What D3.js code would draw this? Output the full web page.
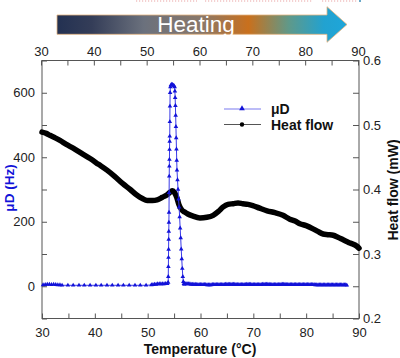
<!DOCTYPE html>
<html><head><meta charset="utf-8">
<script src="https://cdn.jsdelivr.net/npm/d3@7"></script>
<style>body{margin:0;background:#fff}svg{display:block;font-family:"Liberation Sans",Arial,sans-serif}</style>
</head><body><svg id="c" width="400" height="358"></svg>
<script>
// ---- data ----
const hfTemp = [30.0,30.8,31.5,32.5,33.4,34.6,35.9,37.5,39.1,40.7,42.3,43.8,45.3,46.7,48.0,49.0,49.9,50.9,51.8,52.8,53.7,54.3,54.7,55.1,55.5,55.9,56.4,57.0,57.6,58.5,59.9,61.2,62.4,63.4,64.3,65.2,66.2,67.1,68.0,69.0,69.9,71.2,72.6,74.1,75.6,76.9,77.9,78.8,80.0,81.3,82.2,83.2,84.1,85.1,86.0,87.0,88.3,89.6,90.0];
const hfValue = [0.489,0.487,0.484,0.480,0.476,0.470,0.464,0.456,0.448,0.439,0.430,0.420,0.409,0.400,0.391,0.386,0.383,0.383,0.384,0.388,0.392,0.396,0.398,0.395,0.388,0.377,0.369,0.365,0.362,0.359,0.356,0.357,0.360,0.366,0.373,0.377,0.378,0.379,0.378,0.377,0.375,0.371,0.367,0.364,0.360,0.354,0.351,0.347,0.344,0.339,0.335,0.331,0.330,0.329,0.326,0.322,0.317,0.312,0.309];

const muTemp = [30.2,30.6,31.0,31.4,31.8,32.2,32.6,33.0,33.4,33.8,34.9,35.9,37.0,38.0,39.1,40.2,41.2,42.3,43.3,44.4,45.4,46.5,47.6,48.6,49.7,50.7,51.0,51.3,51.6,51.9,52.2,52.5,52.8,53.1,53.4,53.7,53.88,
  53.9,53.92,53.94,53.96,53.98,54.0,54.02,54.04,54.06,54.08,54.1,54.12,54.14,54.16,54.18,54.2,54.22,54.25,54.3,
  54.4,54.55,54.7,54.85,55.0,55.1,
  55.15,55.2,55.25,55.3,55.35,55.4,55.45,55.5,55.55,55.65,55.75,55.85,55.95,56.05,56.15,56.25,56.35,56.45,56.55,56.65,56.75,56.85,56.95,
  57.0,57.25,57.5,57.75,58.0,58.25,58.5,58.75,59.0,59.25,59.5,59.75,60.0,
  60.25,60.5,60.75,61.0,61.25,61.5,61.75,62.0,62.25,62.5,62.75,63.0,63.25,63.5,63.75,64.0,64.25,64.5,64.75,65.0,
  65.25,65.5,65.75,66.0,66.25,66.5,66.75,67.0,67.25,67.5,67.75,68.0,68.25,68.5,68.75,69.0,69.25,69.5,69.75,70.0,
  70.25,70.5,70.75,71.0,71.25,71.5,71.75,72.0,72.25,72.5,72.75,73.0,73.25,73.5,73.75,74.0,74.25,74.5,74.75,75.0,
  75.25,75.5,75.75,76.0,76.25,76.5,76.75,77.0,77.25,77.5,77.75,78.0,78.25,78.5,78.75,79.0,79.25,79.5,79.75,80.0,
  80.25,80.5,80.75,81.0,81.25,81.5,81.75,82.0,82.25,82.5,82.75,83.0,83.25,83.5,83.75,84.0,84.25,84.5,84.75,85.0,
  85.25,85.5,85.75,86.0,86.25,86.5,86.75,87.0,87.25,87.5,87.7];
const muValue = [4,5,6,6,5,6,5,4,4,3,3,3,3,3,3,3,3,3,3,3,3,3,3,3,3,4,5,6,6,7,7,7,7,7,8,8,12,
  30,61,89,114,145,170,198,229,290,341,372,393,424,449,465,510,558,600,618,
  624,626,625,623,621,618,
  605,585,560,530,495,460,425,390,360,330,300,270,245,215,180,150,115,85,55,30,14,8,6,
  8,8,7,7,7,6,6,6,6,5,5,5,5,
  5,5,5,5,4,4,4,4,5,5,5,5,5,5,5,5,5,5,6,6,
  6,6,6,6,6,6,5,5,5,5,5,5,5,5,6,6,6,6,5,5,
  5,5,5,5,5,5,6,6,6,6,6,6,5,5,5,5,5,5,5,5,
  6,6,6,6,5,5,5,5,5,5,5,5,5,5,5,5,5,5,5,5,
  5,5,5,5,5,5,4,4,4,4,4,4,4,4,4,4,4,4,4,4,
  4,4,4,4,4,4,4,4,4,4,3];

const xTickValues = [30,35,40,45,50,55,60,65,70,75,80,85,90];
const xTickLabels = [30,40,50,60,70,80,90];
const leftTickValues = [-100,0,100,200,300,400,500,600,700];
const leftTickLabels = [0,200,400,600];
const rightTickValues = [0.2,0.25,0.3,0.35,0.4,0.45,0.5,0.55,0.6];
const rightTickLabels = [0.2,0.3,0.4,0.5,0.6];

// ---- layout ----
const svg = d3.select("#c");
const L = 42, R = 359, T = 60.5, B = 318.5;
const blue = "#1212d8";
const x = d3.scaleLinear().domain([30, 90]).range([L, R]);
const yL = d3.scaleLinear().domain([-100, 700]).range([B, T]);
const yR = d3.scaleLinear().domain([0.2, 0.6]).range([B, T]);

// dotted line at very top
const dots = [[136,197],[205,312],[322,357]];
dots.forEach(d => svg.append("line").attr("x1", d[0]).attr("x2", d[1]).attr("y1", 1).attr("y2", 1)
  .attr("stroke", "#e9a3a3").attr("stroke-width", 1.2).attr("stroke-dasharray", "1.2,1.8"));
svg.append("rect").attr("x", 359).attr("y", 0).attr("width", 2).attr("height", 2).attr("fill", "#6aa9c9");

// heating arrow
const defs = svg.append("defs");
const g = defs.append("linearGradient").attr("id", "hg").attr("gradientUnits", "userSpaceOnUse")
  .attr("x1", 57).attr("x2", 347).attr("y1", 0).attr("y2", 0);
[[0,"#233152"],[0.12,"#343d58"],[0.3,"#6b717d"],[0.5,"#8a7869"],[0.66,"#c9701d"],[0.8,"#5f998a"],[0.92,"#22a2d0"],[1,"#1ea6da"]]
  .forEach(s => g.append("stop").attr("offset", s[0]).attr("stop-color", s[1]));
svg.append("path")
  .attr("d", "M57,15 L327,15 L327,6.7 L347,24.5 L327,42.3 L327,34.3 L57,34.3 Z")
  .attr("fill", "url(#hg)").attr("stroke", "#e3b27e").attr("stroke-width", 0.8);
svg.append("text").attr("x", 196).attr("y", 32).attr("text-anchor", "middle")
  .attr("font-size", 22.5).attr("fill", "#fff").text("Heating");

// frame
svg.append("rect").attr("x", L).attr("y", T).attr("width", R - L).attr("height", B - T)
  .attr("fill", "none").attr("stroke", "#555").attr("stroke-width", 1);

function styleAxis(sel) {
  sel.select(".domain").remove();
  sel.selectAll(".tick line").attr("stroke", "#555");
  sel.selectAll(".tick text").attr("fill", "#222").attr("font-size", 13);
}
const xFmt = d => xTickLabels.includes(d) ? d : "";
svg.append("g").attr("transform", `translate(0,${B})`)
  .call(d3.axisBottom(x).tickValues(xTickValues).tickFormat(xFmt).tickSize(-5).tickPadding(9)).call(styleAxis);
svg.append("g").attr("transform", `translate(-1,${T})`)
  .call(d3.axisTop(x).tickValues(xTickValues).tickFormat(xFmt).tickSize(-5).tickPadding(5)).call(styleAxis);
svg.append("g").attr("transform", `translate(${L},0)`)
  .call(d3.axisLeft(yL).tickValues(leftTickValues).tickFormat(d => leftTickLabels.includes(d) ? d : "").tickSize(-5).tickPadding(7)).call(styleAxis);
svg.append("g").attr("transform", `translate(${R},0)`)
  .call(d3.axisRight(yR).tickValues(rightTickValues)
    .tickFormat(d => rightTickLabels.some(v => Math.abs(v - d) < 1e-9) ? d3.format(".1f")(d) : "").tickSize(-6).tickPadding(4)).call(styleAxis);

// heat flow line
const hf = hfTemp.map((t, i) => [t, hfValue[i]]);
svg.append("path").datum(hf)
  .attr("d", d3.line().x(d => x(d[0])).y(d => yR(d[1])).curve(d3.curveMonotoneX))
  .attr("fill", "none").attr("stroke", "#000").attr("stroke-width", 5.5).attr("stroke-linejoin", "round").attr("stroke-linecap", "round");

// μD line + markers
const mu = muTemp.map((t, i) => [t, muValue[i]]);
svg.append("path").datum(mu)
  .attr("d", d3.line().x(d => x(d[0])).y(d => yL(d[1])))
  .attr("fill", "none").attr("stroke", "#3a3ae8").attr("stroke-width", 1);
const tri = d3.symbol().type(d3.symbolTriangle).size(9);
svg.append("g").selectAll("path").data(mu).join("path")
  .attr("transform", d => `translate(${x(d[0])},${yL(d[1])})`)
  .attr("d", tri).attr("fill", blue);

// legend
svg.append("line").attr("x1", 224).attr("x2", 261).attr("y1", 109).attr("y2", 109).attr("stroke", "#7a7af0").attr("stroke-width", 1.2);
svg.append("path").attr("transform", "translate(242,108.5)").attr("d", d3.symbol().type(d3.symbolTriangle).size(14)).attr("fill", blue);
svg.append("text").attr("x", 271).attr("y", 114).attr("font-size", 14).attr("font-weight", "bold").attr("fill", "#111").text("μD");
svg.append("line").attr("x1", 224).attr("x2", 261).attr("y1", 124.5).attr("y2", 124.5).attr("stroke", "#555").attr("stroke-width", 1.2);
svg.append("circle").attr("cx", 242).attr("cy", 124.5).attr("r", 2.2).attr("fill", "#000");
svg.append("text").attr("x", 271).attr("y", 130).attr("font-size", 14).attr("font-weight", "bold").attr("fill", "#111").text("Heat flow");

// axis titles
svg.append("text").attr("x", 200).attr("y", 354).attr("text-anchor", "middle")
  .attr("font-size", 14).attr("font-weight", "bold").attr("fill", "#111").text("Temperature (°C)");
svg.append("text").attr("transform", "translate(14,188) rotate(-90)").attr("text-anchor", "middle")
  .attr("font-size", 13.5).attr("font-weight", "bold").attr("fill", blue).text("μD (Hz)");
svg.append("text").attr("transform", "translate(398,190) rotate(-90)").attr("text-anchor", "middle")
  .attr("font-size", 14).attr("font-weight", "bold").attr("fill", "#111").text("Heat flow (mW)");
</script></body></html>
